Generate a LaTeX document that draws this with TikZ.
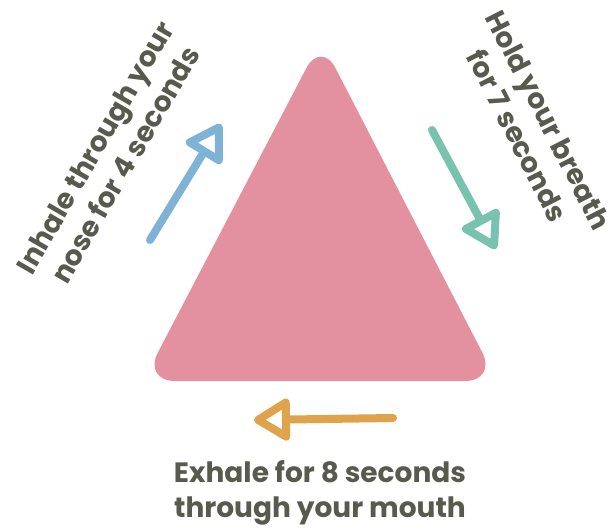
\documentclass[tikz,border=0pt]{standalone}
\usepackage{fontspec}
\setmainfont{Poppins}
\usetikzlibrary{arrows.meta,positioning,calc}

\definecolor{trianglepink}{HTML}{E391A0}
\definecolor{inhaleblue}{HTML}{7FB3D5}
\definecolor{holdteal}{HTML}{79C2B0}
\definecolor{exhaleorange}{HTML}{E0A24A}
\definecolor{textgray}{HTML}{585A4E}

\tikzset{
    breath/.style={line width=8pt, line cap=round, line join=round,
        -{Triangle[open,length=40pt,width=46pt,round]}},
    steptext/.style={text=textgray, font=\fontsize{28}{35}\selectfont\bfseries, align=center}
}

\begin{document}
\begin{tikzpicture}[x=1pt,y=-1pt]
    \useasboundingbox (0,0) rectangle (612,531);

    % triangle
    \coordinate (top) at (321,40);
    \coordinate (left) at (143,381);
    \coordinate (right) at (497,381);
    \fill[trianglepink, rounded corners=32pt] (top) -- (right) -- (left) -- cycle;

    % arrows
    \coordinate (inS) at (150,240);
    \coordinate (inE) at (221,124);
    \coordinate (hoS) at (432,130);
    \coordinate (hoE) at (496,249);
    \coordinate (exS) at (393,418);
    \coordinate (exE) at (254,420);
    \draw[breath, inhaleblue] (inS) -- (inE);
    \draw[breath, holdteal] (hoS) -- (hoE);
    \draw[breath, exhaleorange] (exS) -- (exE);

    % labels
    \node[steptext, rotate=60] (inhale) at (110,156) {Inhale through your\\nose for 4 seconds};
    \node[steptext, rotate=-63] (hold) at (533,128) {Hold your breath\\for 7 seconds};
    \node[steptext] (exhale) at (320,493) {Exhale for 8 seconds\\through your mouth};
\end{tikzpicture}
\end{document}
